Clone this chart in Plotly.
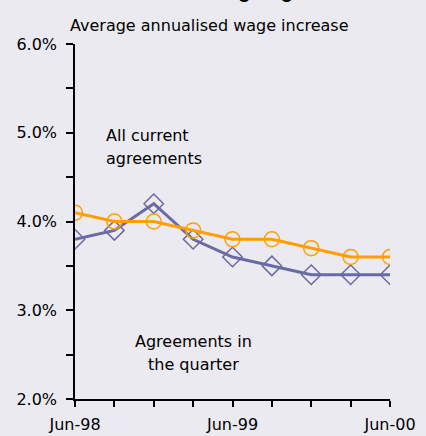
import plotly.graph_objects as go

quarters = ["Jun-98", "Sep-98", "Dec-98", "Mar-99", "Jun-99", "Sep-99", "Dec-99", "Mar-00", "Jun-00"]
all_current = [4.1, 4.0, 4.0, 3.9, 3.8, 3.8, 3.7, 3.6, 3.6]
in_quarter = [3.8, 3.9, 4.2, 3.8, 3.6, 3.5, 3.4, 3.4, 3.4]
x_labels = ["Jun-98", "", "", "", "Jun-99", "", "", "", "Jun-00"]
y_ticks = [2.0, 2.5, 3.0, 3.5, 4.0, 4.5, 5.0, 5.5, 6.0]
y_labels = ["2.0%", "", "3.0%", "", "4.0%", "", "5.0%", "", "6.0%"]

xpos = list(range(len(quarters)))
bg = "#EBEAF0"
font = "DejaVu Sans, Verdana, sans-serif"
tfont = "Liberation Sans, Arial, sans-serif"
fs = 16

fig = go.Figure()
fig.add_trace(go.Scatter(
    x=xpos, y=in_quarter, mode="lines+markers", name="Agreements in the quarter",
    line=dict(color="#6A6AA4", width=3),
    marker=dict(symbol="diamond-open", size=15, color="#6A6AA4", line=dict(width=1.5, color="#6A6AA4")),
))
fig.add_trace(go.Scatter(
    x=xpos, y=all_current, mode="lines+markers", name="All current agreements",
    line=dict(color="#FF9E00", width=3),
    marker=dict(symbol="circle-open", size=15, color="#FF9E00", line=dict(width=1.5, color="#FF9E00")),
))


def px_x(p):
    return (p - 75) / 315


def px_y(p):
    return (399 - p) / 355


fig.update_layout(
    width=426, height=436,
    margin=dict(l=75, r=36, t=44, b=37, autoexpand=False),
    paper_bgcolor=bg, plot_bgcolor=bg,
    showlegend=False,
    font=dict(family=font, size=fs, color="#000000"),
    xaxis=dict(
        range=[0, 8], tickmode="array", tickvals=xpos, ticktext=x_labels,
        showgrid=False, zeroline=False, showline=True, linecolor="#000000", linewidth=1.5,
        ticks="outside", ticklen=6, tickwidth=1.5, tickcolor="#000000",
        ticklabelstandoff=4, automargin=False,
        tickfont=dict(family=font, size=fs), fixedrange=True,
    ),
    yaxis=dict(
        range=[2, 6], tickmode="array", tickvals=y_ticks, ticktext=y_labels,
        showgrid=False, zeroline=False, showline=True, linecolor="#000000", linewidth=1.5,
        ticks="outside", ticklen=7, tickwidth=1.5, tickcolor="#000000",
        ticklabelstandoff=6, automargin=False,
        tickfont=dict(family=font, size=fs), fixedrange=True,
    ),
    annotations=[
        dict(text="<b>Wage Agreements</b>", xref="paper", yref="paper",
             x=px_x(207), y=px_y(-9), xanchor="left", yanchor="middle",
             showarrow=False, font=dict(family=tfont, size=20)),
        dict(text="Average annualised wage increase", xref="paper", yref="paper",
             x=px_x(68), y=px_y(25), xanchor="left", yanchor="middle",
             showarrow=False, font=dict(family=font, size=fs)),
        dict(text="All current", xref="paper", yref="paper",
             x=px_x(104), y=px_y(135), xanchor="left", yanchor="middle",
             showarrow=False, font=dict(family=font, size=fs)),
        dict(text="agreements", xref="paper", yref="paper",
             x=px_x(104), y=px_y(158), xanchor="left", yanchor="middle",
             showarrow=False, font=dict(family=font, size=fs)),
        dict(text="Agreements in", xref="paper", yref="paper",
             x=px_x(193), y=px_y(341), xanchor="center", yanchor="middle",
             showarrow=False, font=dict(family=font, size=fs)),
        dict(text="the quarter", xref="paper", yref="paper",
             x=px_x(193), y=px_y(364), xanchor="center", yanchor="middle",
             showarrow=False, font=dict(family=font, size=fs)),
    ],
)

fig.write_html("out.html", config={"displayModeBar": False},
               post_script="document.body.style.margin='0';document.body.style.overflow='hidden';document.body.style.background='" + bg + "';")
